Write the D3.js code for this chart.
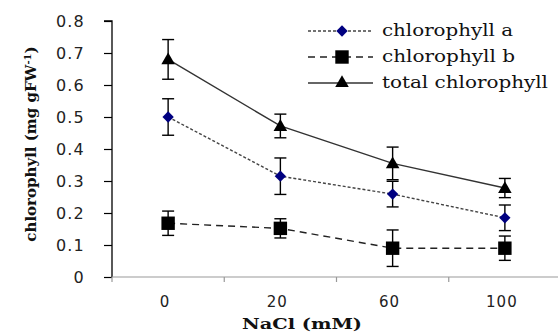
<!DOCTYPE html>
<html><head><meta charset="utf-8">
<script src="https://cdn.jsdelivr.net/npm/d3@7"></script>
<style>body{margin:0;background:#fff}svg{display:block}</style>
</head><body><svg id="c" width="558" height="333"></svg>
<script>
const categories = ["0", "20", "60", "100"];
const chlA = [0.50, 0.315, 0.259, 0.185];
const chlAErr = [0.057, 0.057, 0.04, 0.04];
const chlB = [0.168, 0.152, 0.09, 0.09];
const chlBErr = [0.038, 0.03, 0.057, 0.038];
const total = [0.68, 0.472, 0.355, 0.278];
const totalErr = [0.062, 0.037, 0.051, 0.03];
const yTicks = [0, 0.1, 0.2, 0.3, 0.4, 0.5, 0.6, 0.7, 0.8];
const seriesNames = ["chlorophyll a", "chlorophyll b", "total chlorophyll"];

const svg = d3.select("#c");
const x = d3.scaleBand().domain(categories).range([112, 561]);
const y = d3.scaleLinear().domain([0, 0.8]).range([277, 21]);

// y axis
const ya = svg.append("g").attr("transform", "translate(112,0)")
  .call(d3.axisLeft(y).tickValues(yTicks).tickSize(8).tickPadding(19).tickFormat(d => d === 0 ? "0" : d3.format(".1f")(d)));
ya.select(".domain").attr("stroke", "#000").attr("stroke-width", 1.3).attr("d", `M-8,${y(0.8)}H0V${y(0)}`);
ya.selectAll(".tick line").attr("stroke", "#000").attr("stroke-width", 1.2);
ya.selectAll(".tick text").attr("font-family", "DejaVu Sans").attr("font-size", 16).attr("letter-spacing", 1.2).attr("fill", "#222");

// x axis
const xa = svg.append("g").attr("transform", "translate(0,277)")
  .call(d3.axisBottom(x).tickSize(0).tickPadding(19));
xa.select(".domain").attr("stroke", "#999").attr("stroke-width", 1.2).attr("d", "M112,0H558");
xa.selectAll(".tick text").attr("font-family", "DejaVu Sans").attr("font-size", 15).attr("letter-spacing", 1).attr("fill", "#222").attr("dx", -3);
const bounds = categories.map(c => x(c)).concat([x(categories[3]) + x.bandwidth()]);
xa.selectAll("line.bt").data(bounds).join("line").attr("class", "bt")
  .attr("x1", d => d).attr("x2", d => d).attr("y1", 0).attr("y2", 5)
  .attr("stroke", "#999").attr("stroke-width", 1.2);

const cx = c => x(c) + x.bandwidth() / 2;

const diamond = {draw(ctx, size) { const r = Math.sqrt(size / 2); ctx.moveTo(0, -r); ctx.lineTo(r, 0); ctx.lineTo(0, r); ctx.lineTo(-r, 0); ctx.closePath(); }};

const series = [
  {name: seriesNames[0], vals: chlA, err: chlAErr, dash: "3,2", stroke: "#444", sym: diamond, size: 64, fill: "#000080", tl: 131},
  {name: seriesNames[1], vals: chlB, err: chlBErr, dash: "7,5", stroke: "#222", sym: d3.symbolSquare, size: 180, fill: "#000", tl: 133},
  {name: seriesNames[2], vals: total, err: totalErr, dash: null, stroke: "#333", sym: d3.symbolTriangle, size: 80, fill: "#000", tl: 166}
];

const line = d3.line().x((d, i) => cx(categories[i])).y(d => y(d));

series.forEach(s => {
  const g = svg.append("g");
  g.append("path").attr("d", line(s.vals)).attr("fill", "none")
    .attr("stroke", s.stroke).attr("stroke-width", 1.4)
    .attr("stroke-dasharray", s.dash);
  s.vals.forEach((v, i) => {
    const px = cx(categories[i]);
    const eg = g.append("g").attr("stroke", "#000").attr("stroke-width", 1.4);
    eg.append("line").attr("x1", px).attr("x2", px).attr("y1", y(v + s.err[i])).attr("y2", y(v - s.err[i]));
    eg.append("line").attr("x1", px - 6).attr("x2", px + 6).attr("y1", y(v + s.err[i])).attr("y2", y(v + s.err[i]));
    eg.append("line").attr("x1", px - 6).attr("x2", px + 6).attr("y1", y(v - s.err[i])).attr("y2", y(v - s.err[i]));
  });
  g.selectAll("path.m").data(s.vals).join("path").attr("class", "m")
    .attr("d", d3.symbol(s.sym, s.size))
    .attr("transform", (d, i) => `translate(${cx(categories[i])},${y(d) + (s.sym === d3.symbolTriangle ? 1 : 0)})`)
    .attr("fill", s.fill);
});

// legend
const leg = svg.append("g");
const rowsY = [31, 57, 83];
series.forEach((s, i) => {
  const ry = rowsY[i];
  leg.append("line").attr("x1", 308).attr("x2", 373).attr("y1", ry).attr("y2", ry)
    .attr("stroke", s.stroke).attr("stroke-width", 1.4).attr("stroke-dasharray", s.dash);
  leg.append("path").attr("d", d3.symbol(s.sym, s.size)).attr("transform", `translate(342,${ry})`).attr("fill", s.fill);
  leg.append("text").attr("x", 382).attr("y", ry + 5).text(s.name)
    .attr("textLength", s.tl).attr("lengthAdjust", "spacingAndGlyphs")
    .attr("font-family", "DejaVu Serif").attr("font-size", 16).attr("fill", "#111");
});

// axis titles
svg.append("text").attr("x", 302).attr("y", 329).attr("text-anchor", "middle")
  .attr("textLength", 120).attr("lengthAdjust", "spacingAndGlyphs")
  .attr("font-family", "DejaVu Serif").attr("font-weight", "bold").attr("font-size", 15).attr("fill", "#111")
  .text("NaCl (mM)");
const yt = svg.append("text").attr("transform", "translate(36,144) rotate(-90)").attr("text-anchor", "middle")
  .attr("font-family", "DejaVu Serif").attr("font-weight", "bold").attr("font-size", 15).attr("fill", "#111");
yt.append("tspan").text("chlorophyll (mg gFW");
yt.append("tspan").attr("dy", -5).attr("font-size", 10).text("-1");
yt.append("tspan").attr("dy", 5).text(")");
</script></body></html>
